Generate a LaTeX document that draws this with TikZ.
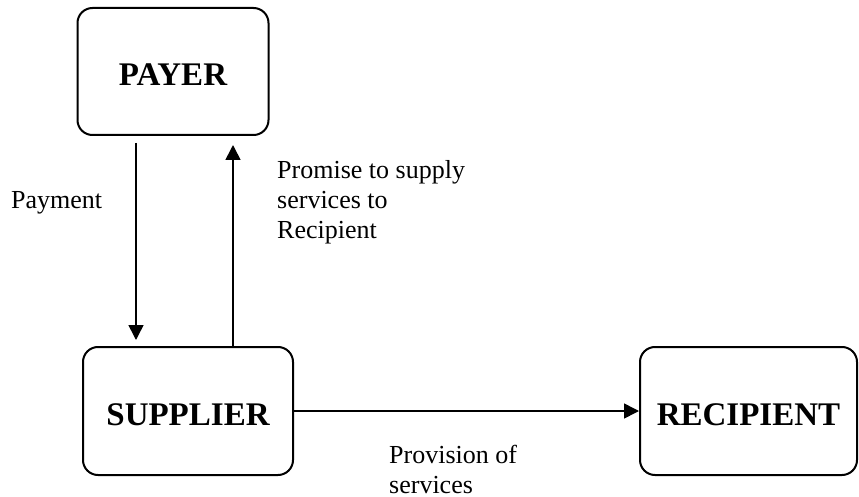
\documentclass[tikz,border=0pt]{standalone}
\usepackage{fontspec}
\setmainfont{Liberation Serif}
\usetikzlibrary{arrows.meta}
\begin{document}
\begin{tikzpicture}[x=1pt,y=-1pt,
  box/.style={draw, line width=2pt, rounded corners=15pt, inner sep=0pt},
  boxtxt/.style={font=\fontsize{33}{38}\selectfont\bfseries, inner sep=0pt},
  lbl/.style={font=\fontsize{26}{30}\selectfont, align=left, anchor=base west, inner sep=0pt},
  arr/.style={line width=1.6pt, -{Triangle[length=15pt,width=15pt]}}]
\useasboundingbox (0,0) rectangle (859,497);
\node[box, minimum width=191pt, minimum height=127pt] (payer) at (173,71.5) {};
\node[box, minimum width=210pt, minimum height=128pt] (supplier) at (188,411) {};
\node[box, minimum width=217pt, minimum height=128pt] (recipient) at (748.5,411) {};
\node[boxtxt] (payert) at ([yshift=-3.5pt]payer.center) {PAYER};
\node[boxtxt] (suppliert) at ([yshift=-3.5pt]supplier.center) {SUPPLIER};
\node[boxtxt] (recipientt) at ([yshift=-3.5pt]recipient.center) {RECIPIENT};
\coordinate (dstart) at (136,143);
\coordinate (dend) at (136,340);
\coordinate (utip) at (233,145);
\draw[arr] (dstart) -- (dend);
\draw[arr] (utip |- supplier.north) -- (utip);
\draw[arr] (supplier.east) -- (recipient.west);
\node[lbl] (pay) at (11,208) {Payment};
\node[lbl] (prom) at (277,238) {Promise to supply\\services to\\Recipient};
\node[lbl] (prov) at (389,493) {Provision of\\services};
\end{tikzpicture}
\end{document}
